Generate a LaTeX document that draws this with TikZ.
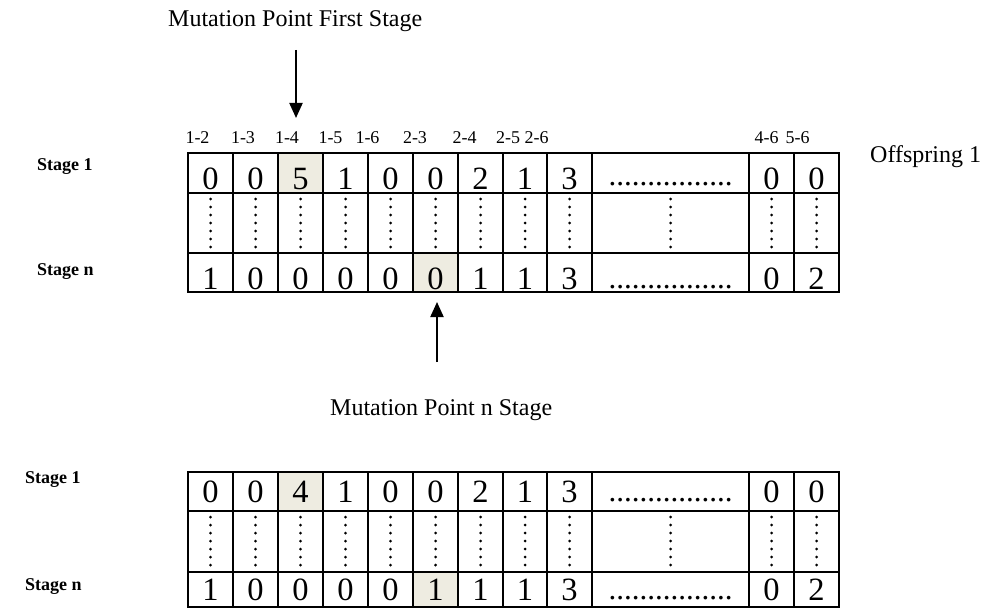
\documentclass[tikz,border=0pt]{standalone}
\usepackage{fontspec}
\setmainfont{Liberation Serif}
\usetikzlibrary{arrows.meta}

\definecolor{mutfill}{HTML}{EEECE1}

% column left edges and widths of the gene table
\def\colleft{{188,233,278,323,368,413,458,503,547,592,749,794}}
\def\colwid{{45,45,45,45,45,45,45,44,45,157,45,45}}
% the elided run of genes in the wide column
\def\dotrun{................}

\tikzset{
  cell/.style={draw=black, line width=2pt, inner sep=0pt, outer sep=0pt, anchor=north west},
  digit/.style={anchor=base, inner sep=0pt, font=\fontsize{32.5}{32.5}\selectfont},
  dotsrun/.style={anchor=base, inner sep=0pt, font=\fontsize{31}{31}\selectfont},
  vdots/.style={line width=3pt, line cap=round, dash pattern=on 0pt off 8pt},
  header/.style={anchor=base, inner sep=0pt, font=\fontsize{18}{18}\selectfont},
  stagelabel/.style={anchor=base west, inner sep=0pt, font=\fontsize{18}{18}\selectfont\bfseries},
  caption/.style={anchor=base west, inner sep=0pt, font=\fontsize{24}{24}\selectfont},
  pointer/.style={line width=2pt, -{Triangle[length=15pt,width=13pt]}},
}

% one row of values: name, top, height, shaded column, digit baseline, dots baseline, values
\newcommand\valuerow[7]{%
  \foreach \v [count=\c] in {#7} {
    \pgfmathsetmacro\colL{\colleft[\c-1]}
    \pgfmathsetmacro\colW{\colwid[\c-1]}
    \pgfmathsetmacro\colM{\colL+\colW/2}
    \ifnum\c=#4 \def\fillc{mutfill}\else\def\fillc{white}\fi
    \node[cell, fill=\fillc, minimum width=\colW pt, minimum height=#3 pt] (#1-\c) at (\colL,#2) {};
    \ifnum\c=10
      \node[dotsrun] (#1-t\c) at (\colM,#6) {\v};
    \else
      \node[digit] (#1-t\c) at (\colM,#5) {\v};
    \fi
  }%
}

% the middle row of vertical dots: name, top, height
\newcommand\dotrow[3]{%
  \foreach \c in {1,2,3,4,5,6,7,8,9,10,11,12} {
    \pgfmathsetmacro\colL{\colleft[\c-1]}
    \pgfmathsetmacro\colW{\colwid[\c-1]}
    \node[cell, minimum width=\colW pt, minimum height=#3 pt] (#1-\c) at (\colL,#2) {};
    \draw[vdots] ([yshift=-6pt]#1-\c.north) -- ([yshift=6pt]#1-\c.south);
  }%
}

\begin{document}
\begin{tikzpicture}[x=1pt,y=-1pt]
\useasboundingbox (0,0) rectangle (989,610);

% ---------- first offspring, before mutation ----------
\node[caption] (mutfirst) at (168,27) {Mutation Point First Stage};
\coordinate (mf-tail) at (296,50);
\coordinate (mf-tip) at (296,118);
\draw[pointer] (mf-tail) -- (mf-tip);

\foreach \lab/\x [count=\k] in {1-2/197.5, 1-3/243, 1-4/287, 1-5/330.5, 1-6/367.5,
    2-3/415, 2-4/464.5, 2-5/508, 2-6/536.5, 4-6/766.5, 5-6/797.5}
  \node[header] (hd\k) at (\x,143) {\lab};

\node[stagelabel] (a-s1) at (37,170) {Stage 1};
\node[stagelabel] (a-sn) at (37,275) {Stage n};
\node[caption] (offspring) at (870,162) {Offspring 1};

\valuerow{a1}{153}{40}{3}{189}{185}{0,0,5,1,0,0,2,1,3,\dotrun,0,0}
\dotrow{am}{193}{60}
\valuerow{an}{253}{39}{6}{289}{288}{1,0,0,0,0,0,1,1,3,\dotrun,0,2}

\coordinate (mn-tail) at (437,362);
\coordinate (mn-tip) at (437,302);
\draw[pointer] (mn-tail) -- (mn-tip);
\node[caption] (mutn) at (330,415) {Mutation Point n Stage};

% ---------- after mutation ----------
\node[stagelabel] (b-s1) at (25,483) {Stage 1};
\node[stagelabel] (b-sn) at (25,590) {Stage n};

\valuerow{b1}{472}{39}{3}{502}{501}{0,0,4,1,0,0,2,1,3,\dotrun,0,0}
\dotrow{bm}{511}{61}
\valuerow{bn}{572}{35}{6}{600}{599}{1,0,0,0,0,1,1,1,3,\dotrun,0,2}
\end{tikzpicture}
\end{document}
